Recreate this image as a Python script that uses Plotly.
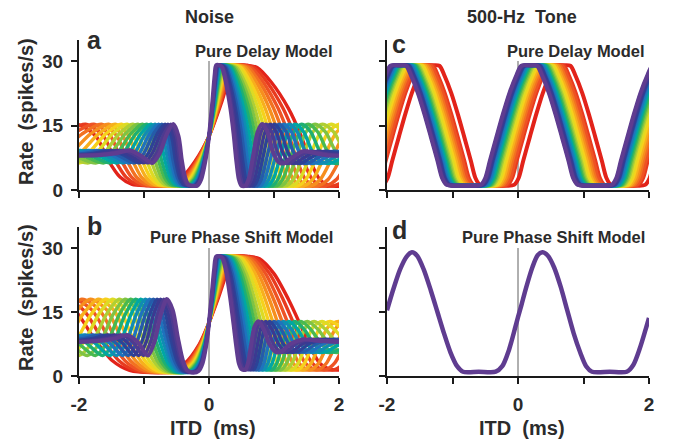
import plotly.graph_objects as go
from plotly.colors import sample_colorscale

# ---------------- data ----------------
itd_ticks = [-2, -1, 0, 1, 2]
itd_tick_text = ["-2", "", "0", "", "2"]
rate_ticks = [0, 15, 30]
rate_tick_text = ["0", "15", "30"]

# Noise-delay function of the highest-CF (purple) channel, pure delay model (panel a)
noise_itd_a = [-2.0, -1.7, -1.45, -1.22, -1.05, -0.87, -0.76, -0.65, -0.55, -0.47, -0.42, -0.37,
               -0.32, -0.26, -0.18, -0.12, -0.06, 0.0, 0.05, 0.09, 0.11, 0.16, 0.2, 0.26, 0.33,
               0.38, 0.42, 0.46, 0.5, 0.56, 0.61, 0.68, 0.75, 0.82, 0.9, 0.98, 1.07, 1.15, 1.27,
               1.45, 1.6, 1.8, 2.0]
noise_rate_a = [8.0, 8.1, 8.5, 9.2, 8.0, 6.3, 8.5, 13.0, 15.3, 12.5, 7.0, 3.0,
                1.3, 1.0, 1.0, 2.5, 6.5, 12.5, 20.0, 27.0, 29.0, 29.0, 28.5, 25.0, 19.0,
                13.0, 7.0, 2.5, 1.0, 1.0, 2.5, 8.0, 13.5, 15.3, 13.5, 9.0, 6.5, 6.2, 7.5,
                9.0, 8.7, 8.1, 8.0]

# Same for the pure phase shift model (panel b)
noise_itd_b = [-2.0, -1.7, -1.45, -1.26, -1.1, -0.94, -0.84, -0.74, -0.65, -0.56, -0.48, -0.4,
               -0.33, -0.24, -0.16, -0.1, -0.04, 0.0, 0.04, 0.08, 0.11, 0.17, 0.21, 0.27, 0.33,
               0.38, 0.42, 0.46, 0.5, 0.56, 0.6, 0.65, 0.7, 0.76, 0.84, 0.93, 1.03, 1.12, 1.25,
               1.45, 1.65, 2.0]
noise_rate_b = [8.0, 8.2, 8.8, 9.6, 8.0, 4.8, 8.0, 14.5, 18.0, 15.5, 9.0, 3.5,
                1.3, 0.8, 1.2, 3.0, 7.5, 12.5, 18.5, 25.0, 28.0, 28.0, 27.5, 24.0, 18.0,
                12.0, 7.0, 3.0, 1.6, 1.5, 3.0, 7.5, 11.5, 12.8, 11.0, 7.5, 5.6, 5.8, 7.5,
                8.6, 8.3, 8.0]

# ITD stretch of each channel relative to the purple one (red = lowest CF ... purple = highest CF)
channel_stretch = [3.7, 3.45, 3.22, 3.01, 2.81, 2.62, 2.45, 2.29, 2.13, 1.99,
                   1.86, 1.74, 1.62, 1.51, 1.41, 1.32, 1.23, 1.15, 1.07, 1.0]

# One cycle of the 500-Hz tone response around its peak (offset in ms, rate)
tone_offset = [-1.0, -0.85, -0.74, -0.67, -0.6, -0.5, -0.4, -0.3, -0.2, -0.12,
               0.0, 0.12, 0.2, 0.3, 0.4, 0.5, 0.6, 0.67, 0.74, 0.85]
tone_rate = [1.0, 1.0, 1.2, 2.8, 6.8, 12.3, 17.7, 22.6, 26.5, 28.9,
             29.0, 28.9, 26.5, 22.6, 17.7, 12.3, 6.8, 2.8, 1.2, 1.0]
# Peak ITD of each channel for the tone (panel c)
tone_peak_itd = [0.68, 0.58, 0.55, 0.51, 0.48, 0.45, 0.42, 0.39, 0.36, 0.34,
                 0.32, 0.3, 0.28, 0.26, 0.24, 0.22, 0.21, 0.2, 0.18, 0.17]

# Pure phase shift model, tone (panel d): all channels identical
phase_itd = [-2.0, -1.9, -1.8, -1.7, -1.62, -1.54, -1.44, -1.33, -1.23, -1.13, -1.03, -0.93,
             -0.84, -0.6, -0.34, -0.24, -0.14, -0.04, 0.0, 0.05, 0.12, 0.22, 0.3, 0.37,
             0.45, 0.55, 0.65, 0.75, 0.85, 0.95, 1.04, 1.13, 1.4, 1.66, 1.76, 1.86, 1.95, 2.0]
phase_rate = [15.4, 20.5, 25.0, 28.0, 29.0, 28.2, 25.0, 20.0, 15.0, 10.0, 5.5, 2.3,
              1.0, 1.0, 1.0, 2.3, 6.0, 11.5, 13.8, 16.5, 20.5, 25.5, 28.3, 29.0,
              28.3, 25.5, 21.0, 15.5, 10.0, 5.5, 2.3, 1.0, 1.0, 1.0, 2.6, 6.5, 11.0, 13.6]

# ---------------- styling ----------------
FONT = "Liberation Sans, Arial, sans-serif"
TXT = "#2b2b2b"
rainbow = [[0.0, "#e2231a"], [0.1, "#ee5024"], [0.22, "#f7941d"], [0.34, "#f6e11c"],
           [0.46, "#8dc63f"], [0.55, "#2fb457"], [0.63, "#00a7a4"], [0.73, "#1d76bf"],
           [0.86, "#2f3a91"], [1.0, "#5f3c90"]]
n = len(channel_stretch)
colors = sample_colorscale(rainbow, [i / (n - 1) for i in range(n)])
PURPLE = "#5f3c90"

fig = go.Figure()


def add_line(x, y, xa, ya, color, width):
    fig.add_trace(go.Scatter(x=x, y=y, mode="lines", xaxis=xa, yaxis=ya,
                             line=dict(color=color, width=width, shape="spline", smoothing=0.8),
                             hoverinfo="skip", showlegend=False))


# panel a and b : noise curves
for tx, ty, xa, ya in [(noise_itd_a, noise_rate_a, "x", "y"), (noise_itd_b, noise_rate_b, "x3", "y3")]:
    for k, s in enumerate(channel_stretch):
        xs, ys = [], []
        for t, r in zip(tx, ty):
            xv = t * s
            if -2.6 <= xv <= 2.6:
                xs.append(xv)
                ys.append(r)
        add_line(xs, ys, xa, ya, colors[k], 4.2 if k == n - 1 else 3.4)

# panel c : tone, pure delay
for k, p in enumerate(tone_peak_itd):
    xs, ys = [], []
    for m in (-3, -2, -1, 0, 1):
        for d, r in zip(tone_offset, tone_rate):
            xv = p + 2 * m + d
            if -2.4 <= xv <= 2.4:
                xs.append(xv)
                ys.append(r)
    add_line(xs, ys, "x2", "y2", colors[k], 4)

# panel d : tone, pure phase shift
add_line(phase_itd, phase_rate, "x4", "y4", PURPLE, 4.5)

# ---------------- layout ----------------
W, H = 676, 441
left_dom = [79 / W, 339 / W]
right_dom = [387 / W, 649 / W]
top_dom = [1 - 190 / H, 1 - 39.5 / H]
bot_dom = [1 - 376 / H, 1 - 226.7 / H]

tickfont = dict(family=FONT, size=19, color=TXT, weight="bold")


def xax(dom, anchor, labels):
    return dict(domain=dom, anchor=anchor, range=[-2, 2], showgrid=False, zeroline=False,
                showline=True, linecolor="#1a1a1a", linewidth=2, ticks="outside", ticklen=6,
                tickwidth=2, tickcolor="#1a1a1a", tickvals=itd_ticks, ticktext=itd_tick_text,
                showticklabels=labels, tickfont=tickfont, ticklabelstandoff=4, fixedrange=True,
                automargin=False)


def yax(dom, anchor, labels):
    return dict(domain=dom, anchor=anchor, range=[0, 35], showgrid=False, zeroline=False,
                showline=True, linecolor="#1a1a1a", linewidth=2, ticks="outside", ticklen=6,
                tickwidth=2, tickcolor="#1a1a1a", tickvals=rate_ticks, ticktext=rate_tick_text,
                showticklabels=labels, tickfont=tickfont, ticklabelstandoff=4, fixedrange=True,
                automargin=False)


shapes = []
for xr, yr in [("x", "y"), ("x2", "y2"), ("x3", "y3"), ("x4", "y4")]:
    shapes.append(dict(type="line", xref=xr, yref=yr, x0=0, x1=0, y0=0, y1=30,
                       line=dict(color="#606060", width=1), layer="below"))


def ann(text, x, y, size, xanchor="center", yanchor="middle", angle=0):
    return dict(text=text, x=x / W, y=1 - y / H, xref="paper", yref="paper", showarrow=False,
                xanchor=xanchor, yanchor=yanchor, textangle=angle, borderpad=0,
                font=dict(family=FONT, size=size, color=TXT, weight="bold"))


NB = "\u00a0"
annotations = [
    ann("Noise", 210, 17, 18),
    ann("500-Hz" + NB + NB + "Tone", 522, 17, 18),
    ann("a", 86, 40, 25, xanchor="left"),
    ann("c", 391, 44, 25, xanchor="left"),
    ann("b", 86, 226, 25, xanchor="left"),
    ann("d", 391, 230, 25, xanchor="left"),
    ann("Pure Delay Model", 334, 51, 16.5, xanchor="right"),
    ann("Pure Delay Model", 646, 51, 16.5, xanchor="right"),
    ann("Pure Phase Shift Model", 334, 237, 16.5, xanchor="right"),
    ann("Pure Phase Shift Model", 646, 237, 16.5, xanchor="right"),
    ann("Rate" + NB + NB + "(spikes/s)", 26, 112, 20, angle=-90),
    ann("Rate" + NB + NB + "(spikes/s)", 26, 298, 20, angle=-90),
    ann("ITD" + NB + NB + "(ms)", 213, 428, 20),
    ann("ITD" + NB + NB + "(ms)", 522, 428, 20),
]

fig.update_layout(
    width=W, height=H, margin=dict(l=0, r=0, t=0, b=0, autoexpand=False),
    paper_bgcolor="white", plot_bgcolor="white", showlegend=False, hovermode=False,
    xaxis=xax(left_dom, "y", False), yaxis=yax(top_dom, "x", True),
    xaxis2=xax(right_dom, "y2", False), yaxis2=yax(top_dom, "x2", False),
    xaxis3=xax(left_dom, "y3", True), yaxis3=yax(bot_dom, "x3", True),
    xaxis4=xax(right_dom, "y4", True), yaxis4=yax(bot_dom, "x4", False),
    shapes=shapes, annotations=annotations,
)

fig.write_html("out.html", config={"displayModeBar": False},
               post_script="document.body.style.margin='0';document.body.style.overflow='hidden';")
